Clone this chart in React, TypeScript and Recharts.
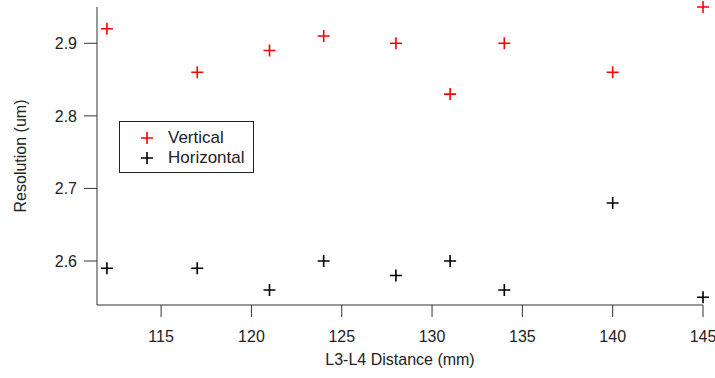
import React from "react";
import {
  ScatterChart,
  Scatter,
  XAxis,
  YAxis,
  Legend,
} from "recharts";

// Distances L3-L4 (mm)
const distances = [112, 117, 121, 124, 128, 131, 134, 140, 145];
// Résolution mesurée (um)
const vertical = [2.92, 2.86, 2.89, 2.91, 2.9, 2.83, 2.9, 2.86, 2.95];
const horizontal = [2.59, 2.59, 2.56, 2.6, 2.58, 2.6, 2.56, 2.68, 2.55];

const xTicks = [115, 120, 125, 130, 135, 140, 145];
const yTicks = [2.6, 2.7, 2.8, 2.9];

const FONT = '"Liberation Sans", Arial, sans-serif';
const AXIS = "#333";

const verticalData = distances.map((x, i) => ({ x, y: vertical[i] }));
const horizontalData = distances.map((x, i) => ({ x, y: horizontal[i] }));

// Marqueur en croix
const plus = (color: string) => (props: any) => {
  const { cx, cy } = props;
  return (
    <path
      d={`M${cx - 6},${cy}h12M${cx},${cy - 6}v12`}
      stroke={color}
      strokeWidth={1.6}
      fill="none"
    />
  );
};

const LegendBox = () => (
  <div
    style={{
      border: "1px solid #222",
      background: "#fff",
      padding: "6px 0 4px 0",
      fontFamily: FONT,
      fontSize: 17,
      color: "#222",
      lineHeight: "20px",
    }}
  >
    {[
      { name: "Vertical", color: "#ff0000" },
      { name: "Horizontal", color: "#000" },
    ].map((e) => (
      <div key={e.name} style={{ display: "flex", alignItems: "center" }}>
        <svg width={48} height={20}>
          <path d="M21,10h12M27,4v12" stroke={e.color} strokeWidth={1.6} />
        </svg>
        <span>{e.name}</span>
      </div>
    ))}
  </div>
);

export default function App() {
  return (
    <div style={{ position: "absolute", left: 0, top: 0, background: "#fff" }}>
      <ScatterChart
        width={715}
        height={378}
        margin={{ top: 7, right: 12, bottom: 0, left: 0 }}
      >
        <XAxis
          type="number"
          dataKey="x"
          domain={[111.45, 145]}
          ticks={xTicks}
          height={73}
          tickSize={12}
          tickMargin={14}
          stroke={AXIS}
          tick={{ fill: "#222", fontSize: 16, fontFamily: FONT }}
          label={{
            value: "L3-L4 Distance (mm)",
            position: "insideBottom",
            offset: 13,
            fill: "#222",
            fontSize: 16,
            fontFamily: FONT,
          }}
        />
        <YAxis
          type="number"
          dataKey="y"
          domain={[2.5394, 2.95]}
          ticks={yTicks}
          width={97}
          tickSize={13}
          tickMargin={7}
          stroke={AXIS}
          tickFormatter={(v: number) => v.toFixed(1)}
          tick={{ fill: "#222", fontSize: 16, fontFamily: FONT }}
          label={{
            content: ({ viewBox }: any) => {
              const cy = viewBox.y + viewBox.height / 2;
              return (
                <text
                  x={20}
                  y={cy}
                  transform={`rotate(-90 20 ${cy})`}
                  textAnchor="middle"
                  dominantBaseline="central"
                  fill="#222"
                  fontSize={16}
                  fontFamily={FONT}
                >
                  Resolution (um)
                </text>
              );
            },
          }}
        />
        <Legend
          layout="horizontal"
          align="center"
          verticalAlign="middle"
          content={() => <LegendBox />}
          wrapperStyle={{ left: 119, top: 121, width: 135 }}
        />
        <Scatter
          name="Vertical"
          data={verticalData}
          shape={plus("#ff0000")}
          isAnimationActive={false}
        />
        <Scatter
          name="Horizontal"
          data={horizontalData}
          shape={plus("#000")}
          isAnimationActive={false}
        />
      </ScatterChart>
    </div>
  );
}
